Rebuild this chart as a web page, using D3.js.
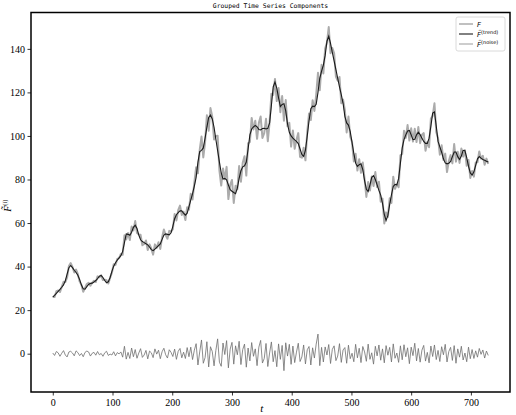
<!DOCTYPE html>
<html>
<head>
<meta charset="utf-8">
<script src="https://cdn.jsdelivr.net/npm/d3@7"></script>
<style>
  body { margin: 0; background: #fff; }
  svg { display: block; }
</style>
</head>
<body>
<script>
// sample step along t
var step = 3

// trend component, one value every 3 time steps (t = 0, 3, ... 729)
var trend = [
  26.0, 26.8, 27.7, 28.6, 29.5, 30.5, 31.6, 33.5, 36.5, 39.5,
  40.5, 39.5, 38.3, 37.3, 36.0, 34.0, 31.5, 29.8, 29.6, 30.8,
  31.8, 32.3, 32.4, 32.9, 33.6, 34.5, 35.6, 35.9, 35.0, 33.6,
  32.6, 33.0, 35.0, 37.8, 40.2, 41.8, 43.0, 44.0, 45.0, 47.0,
  51.0, 55.0, 54.8, 54.4, 55.8, 58.0, 59.0, 57.5, 54.5, 52.3,
  51.5, 51.0, 50.5, 50.0, 49.0, 47.8, 47.3, 48.0, 48.8, 49.6,
  50.4, 52.5, 54.5, 55.0, 54.8, 54.6, 55.5, 58.5, 62.0, 63.8,
  64.8, 65.6, 65.6, 64.5, 63.6, 64.5, 67.5, 70.5, 73.5, 77.0,
  81.0, 88.0, 92.8, 93.4, 94.5, 99.0, 104.0, 108.5, 109.6, 107.8,
  104.0, 98.5, 93.3, 88.0, 83.0, 80.2, 80.5, 79.8, 77.5, 75.3,
  74.6, 74.0, 73.5, 76.0, 80.5, 84.0, 85.8, 86.3, 88.0, 94.0,
  100.5, 103.2, 104.2, 104.8, 104.2, 103.0, 102.8, 103.4, 103.5, 103.2,
  103.5, 106.0, 114.0, 122.5, 124.8, 122.0, 117.5, 113.5, 114.5, 114.8,
  111.5, 105.5, 101.7, 100.0, 99.0, 98.2, 97.5, 96.5, 94.0, 91.5,
  90.6, 93.5, 100.0, 107.0, 112.5, 113.7, 113.5, 114.5, 120.0, 126.5,
  129.8, 132.5, 137.0, 143.5, 145.8, 142.5, 138.4, 134.5, 130.5, 126.5,
  122.5, 119.0, 115.0, 109.0, 106.0, 105.0, 102.0, 97.0, 92.0, 87.5,
  86.0, 86.8, 87.2, 84.5, 79.5, 75.5, 74.5, 77.5, 81.0, 81.8,
  80.0, 77.5, 75.0, 72.8, 69.0, 64.0, 61.2, 63.5, 68.5, 73.0,
  76.8, 77.8, 77.5, 80.5, 87.5, 94.5, 98.3, 100.5, 102.3, 102.5,
  100.5, 98.3, 98.5, 100.5, 101.7, 100.6, 99.0, 97.5, 96.6, 96.6,
  99.0, 104.5, 110.5, 111.0, 104.5, 97.5, 95.0, 92.5, 89.5, 87.6,
  87.2, 87.5, 88.3, 90.5, 92.6, 92.6, 90.5, 89.2, 90.8, 93.4,
  93.2, 90.0, 86.0, 83.0, 82.0, 83.5, 86.5, 89.5, 90.5, 89.8,
  89.2, 88.8, 88.4, 88.0
]

// noise component, same sampling
var noise = [
  0.3, -0.8, 1.0, 0.4, -1.2, 0.2, 1.4, -0.6, -1.5, 0.8,
  1.1, 0.3, -1.0, 1.3, 0.5, -0.9, 0.1, -1.4, 0.6, 1.2,
  0.8, -1.1, 0.2, 0.6, -0.7, 1.0, -0.5, 0.1, -1.2, 0.4,
  1.1, -0.8, -0.2, -0.6, 0.9, -1.0, 0.5, -0.1, 0.8,
  -1.6, 3.4, -2.5, 0.6, -2.2, 2.6, -1.4,
  1.9, -2.1, 0.3, 2.3, -1.7, -0.6, 1.5, -2.4, 1.2, 0.4,
  -1.8, 2.2, -0.2, 1.6, -2.3, 0.9, 2.5, -0.5, -2.0, 1.8,
  0.6, -1.3, 2.1, -2.6, 1.1, 2.4, -1.9, 0.7, -2.2, 2.8,
  -1.4, 3.0, -2.7, 1.6,
  4.6, -5.2, 0.8, 6.3, -4.4, -1.8, 5.5, -6.1, 3.2, 1.0,
  -5.6, 1.5, 6.8, -3.9, -5.8, 4.9, -0.4, 6.0, -6.5, 2.1, 5.2,
  -4.8, 3.6, -0.5, 5.7, -5.0, 1.9, 4.4, -6.2, 2.6, -3.3,
  5.1, -1.2, 2.2, -5.5, 3.0, 6.1, -4.3, -2.2, 4.7, -5.9,
  0.3, 5.4, -3.7, 1.4, -6.0, 4.5, -2.6, 3.8, -7.8, 5.0,
  -1.1, 4.3, -4.9,
  3.5, -4.1, 0.7, 4.8, -3.6, -1.5, 4.0, -4.7, 1.8, 3.3,
  -5.2, 2.7, -2.0, 4.4, 9.0, -5.5, 2.9,
  -3.8, 3.1, -0.6, 4.2, -4.5, 2.0, 3.6, -3.2, -1.1, 4.6,
  -4.0, 1.7, 2.8, -4.4, 3.9, -2.3, 0.2, -3.7, 4.3, -1.9,
  2.5, -4.1, 3.3, 0.8, -3.5, 4.4, -2.6, 0.4, -4.8, 3.4,
  -1.0, 4.0, -3.0, 2.2, -4.2, 3.7, -0.7, 2.9, -3.8, 4.5,
  -2.1, 0.3, -4.0, 3.6, -2.8, 4.1, -1.4, 2.7, -4.6, 3.0,
  -0.9, 4.8, -3.3, 2.4, -3.9, 1.6,
  3.8, -3.4, 0.6, -4.2, 3.5, -1.3, 4.0, -2.7, 1.5, -3.6,
  3.2, -0.5, 4.3, -3.8, 1.0, 2.9, -3.1, 3.7, -4.4, 2.2,
  -1.6, 3.4, -2.9, 0.3, -3.7, 3.0, -2.3,
  1.9, -2.2, 1.3, -1.6, 2.4, -0.3, 1.7, -2.0, 1.2, -0.8
]

var xTicks = [0, 100, 200, 300, 400, 500, 600, 700]
var yTicks = [0, 20, 40, 60, 80, 100, 120, 140]

var options = {
  width: 516,
  height: 415,
  left: 31,
  right: 510,
  top: 12.5,
  bottom: 392
}

// the series F is the sum of its grouped components
var n = Math.min(trend.length, noise.length)
var data = []
for (var i = 0; i < n; i++) {
  data.push({ t: i * step, trend: trend[i], noise: noise[i], F: trend[i] + noise[i] })
}

var svg = d3.select('body').append('svg')
  .attr('width', options.width)
  .attr('height', options.height)

// matplotlib style 5% margins round 0..729
var x = d3.scaleLinear().domain([-36.45, 765.45]).range([options.left, options.right])
var y = d3.scaleLinear().domain([-17.6, 156.7]).range([options.bottom, options.top])

function line(key) {
  return d3.line()
    .x(function(d) { return x(d.t) })
    .y(function(d) { return y(d[key]) })
}

var plot = svg.append('g')

plot.append('path').datum(data)
  .attr('d', line('F'))
  .attr('fill', 'none')
  .attr('stroke', '#ababab')
  .attr('stroke-width', 2)
  .attr('stroke-linejoin', 'round')

plot.append('path').datum(data)
  .attr('d', line('trend'))
  .attr('fill', 'none')
  .attr('stroke', '#1a1a1a')
  .attr('stroke-width', 1.1)

plot.append('path').datum(data)
  .attr('d', line('noise'))
  .attr('fill', 'none')
  .attr('stroke', '#6e6e6e')
  .attr('stroke-width', 0.8)

// axes
var serif = '"Liberation Serif", "Times New Roman", serif'

svg.append('g')
  .attr('transform', 'translate(0,' + options.bottom + ')')
  .attr('font-family', serif)
  .attr('font-size', 9)
  .call(d3.axisBottom(x).tickValues(xTicks).tickSize(3.5).tickPadding(3).tickFormat(d3.format('d')))

svg.append('g')
  .attr('transform', 'translate(' + options.left + ',0)')
  .attr('font-family', serif)
  .attr('font-size', 9)
  .call(d3.axisLeft(y).tickValues(yTicks).tickSize(3.5).tickPadding(2.5).tickFormat(d3.format('d')))

svg.selectAll('.domain').remove()
svg.selectAll('.tick line').attr('stroke', '#000').attr('stroke-width', 0.8)
svg.selectAll('.tick text').attr('fill', '#000').style('font-family', serif)

// frame
svg.append('rect')
  .attr('x', options.left)
  .attr('y', options.top)
  .attr('width', options.right - options.left)
  .attr('height', options.bottom - options.top)
  .attr('fill', 'none')
  .attr('stroke', '#000')
  .attr('stroke-width', 1.5)

// title
svg.append('text')
  .attr('x', (options.left + options.right) / 2)
  .attr('y', 8)
  .attr('text-anchor', 'middle')
  .style('font-family', '"DejaVu Sans Mono", monospace')
  .style('font-size', '6.4px')
  .text('Grouped Time Series Components')

// axis labels
svg.append('text')
  .attr('x', x(350))
  .attr('y', 412)
  .attr('text-anchor', 'middle')
  .style('font-family', serif)
  .style('font-style', 'italic')
  .style('font-size', '11px')
  .text('t')

var ylab = svg.append('text')
  .attr('transform', 'translate(11,' + y(68) + ') rotate(-90)')
  .attr('text-anchor', 'middle')
  .style('font-family', serif)
  .style('font-size', '10px')
ylab.append('tspan').style('font-style', 'italic').text('F\u0303')
ylab.append('tspan').attr('dy', -4).style('font-size', '6.5px').text('(i)')

// legend
var legendItems = [
  { label: 'F', sup: '', color: '#ababab', width: 1.5 },
  { label: 'F\u0303', sup: '(trend)', color: '#1a1a1a', width: 1.1 },
  { label: 'F\u0303', sup: '(noise)', color: '#ababab', width: 1.2 }
]

var legend = svg.append('g')
legend.append('rect')
  .attr('x', 456).attr('y', 17)
  .attr('width', 49).attr('height', 34)
  .attr('rx', 2)
  .attr('fill', '#fff')
  .attr('fill-opacity', 0.8)
  .attr('stroke', '#d0d0d0')
  .attr('stroke-width', 0.8)

var rows = legend.selectAll('g.row').data(legendItems).enter().append('g')
  .attr('class', 'row')
  .attr('transform', function(d, i) { return 'translate(0,' + (24 + i * 10) + ')' })

rows.append('line')
  .attr('x1', 459).attr('x2', 473)
  .attr('stroke', function(d) { return d.color })
  .attr('stroke-width', function(d) { return d.width })

var labels = rows.append('text')
  .attr('x', 477)
  .attr('y', 2.5)
  .style('font-family', '"DejaVu Sans", sans-serif')
  .style('font-size', '7px')
labels.append('tspan').style('font-style', 'italic').text(function(d) { return d.label })
labels.append('tspan').attr('dy', -2.5).style('font-size', '5px').text(function(d) { return d.sup })
</script>
</body>
</html>
